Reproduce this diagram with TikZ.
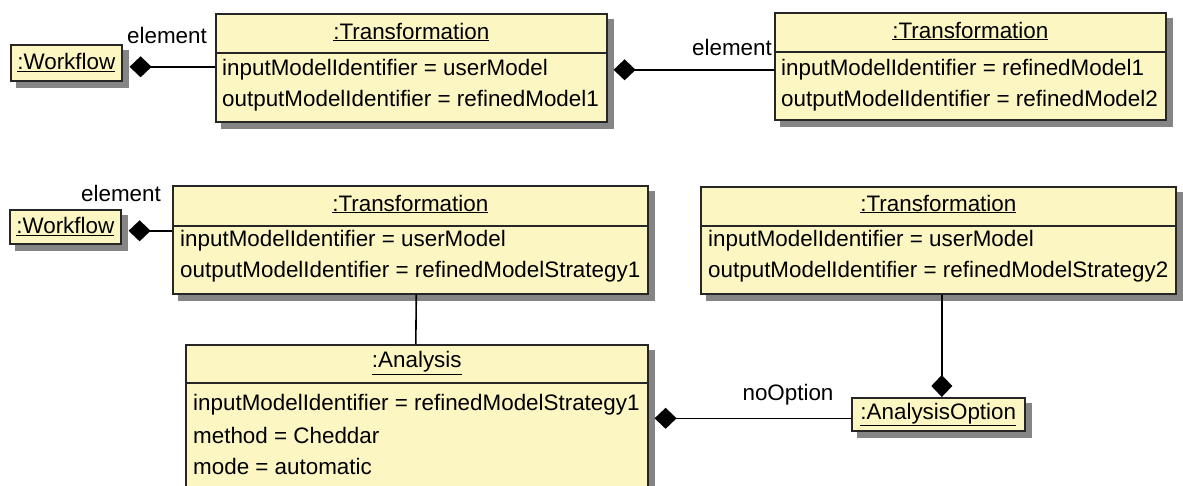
\documentclass[tikz,border=0pt]{standalone}
\usepackage{fontspec}
\setmainfont{Liberation Sans}
\usetikzlibrary{calc,arrows.meta,backgrounds}
\definecolor{umlfill}{HTML}{FBF6C2}
\definecolor{shadowgray}{HTML}{858585}
\definecolor{umlline}{HTML}{262626}
\tikzset{
  obj/.style={draw=umlline, line width=1.6pt, fill=umlfill, rectangle, inner sep=0pt, anchor=north west},
  ttl/.style={inner sep=0pt, font=\fontsize{22.4}{26}\selectfont, anchor=center},
  attr/.style={inner sep=0pt, font=\fontsize{22.4}{26}\selectfont, anchor=west},
  rolelbl/.style={inner sep=0pt, font=\fontsize{22.4}{26}\selectfont, anchor=center},
  sepline/.style={draw=umlline, line width=1.6pt},
  boxshade/.style={fill=shadowgray, draw=none},
  comp/.style={draw=black, line width=1.6pt, -{Diamond[length=22pt,width=21pt]}},
  assoc/.style={draw=black, line width=1.6pt}
}
\newcommand{\boxshadow}[1]{\path[boxshade] ($(#1.south west)+(6,6)$) rectangle ($(#1.north east)+(6,6)$);}
\begin{document}
\begin{tikzpicture}[x=1pt,y=-1pt]
\useasboundingbox (0,0) rectangle (1183,486);

% ---------- Row 1 ----------
\node[obj, minimum width=111pt, minimum height=36pt] (w1) at (10,44) {};
\node[ttl] (w1t) at (w1.center) {\underline{:Workflow}};

\node[obj, minimum width=391pt, minimum height=108pt] (t1) at (215,13) {};
\node[ttl] (t1t) at ($(t1.north)+(0,19)$) {\underline{:Transformation}};
\draw[sepline] ($(t1.north west)+(0,40)$) -- ($(t1.north east)+(0,40)$);
\node[attr] (t1a) at ($(t1.north west)+(7,57)$) {inputModelIdentifier = userModel};
\node[attr] (t1b) at ($(t1.north west)+(7,88)$) {outputModelIdentifier = refinedModel1};

\node[obj, minimum width=391pt, minimum height=107pt] (t2) at (774,12) {};
\node[ttl] (t2t) at ($(t2.north)+(0,19)$) {\underline{:Transformation}};
\draw[sepline] ($(t2.north west)+(0,40)$) -- ($(t2.north east)+(0,40)$);
\node[attr] (t2a) at ($(t2.north west)+(7,58)$) {inputModelIdentifier = refinedModel1};
\node[attr] (t2b) at ($(t2.north west)+(7,89)$) {outputModelIdentifier = refinedModel2};

\coordinate (c1) at ([shift={(7pt,-4pt)}]w1.east);
\draw[comp] (t1.west |- c1) -- (c1);
\node[rolelbl] (e1) at (167,35) {element};

\coordinate (c2) at ([shift={(6pt,-2pt)}]t1.east);
\draw[comp] (t2.west |- c2) -- (c2);
\node[rolelbl] (e2) at (732,47) {element};

% ---------- Row 2 ----------
\node[obj, minimum width=111pt, minimum height=34pt] (w2) at (9,209) {};
\node[ttl] (w2t) at (w2.center) {\underline{:Workflow}};

\node[obj, minimum width=475pt, minimum height=108pt] (t3) at (172,185) {};
\node[ttl] (t3t) at ($(t3.north)+(0,19)$) {\underline{:Transformation}};
\draw[sepline] ($(t3.north west)+(0,41)$) -- ($(t3.north east)+(0,41)$);
\node[attr] (t3a) at ($(t3.north west)+(8,56)$) {inputModelIdentifier = userModel};
\node[attr] (t3b) at ($(t3.north west)+(8,87)$) {outputModelIdentifier = refinedModelStrategy1};

\node[obj, minimum width=475pt, minimum height=107pt] (t4) at (700,186) {};
\node[ttl] (t4t) at ($(t4.north)+(0,18)$) {\underline{:Transformation}};
\draw[sepline] ($(t4.north west)+(0,40)$) -- ($(t4.north east)+(0,40)$);
\node[attr] (t4a) at ($(t4.north west)+(8,55)$) {inputModelIdentifier = userModel};
\node[attr] (t4b) at ($(t4.north west)+(8,86)$) {outputModelIdentifier = refinedModelStrategy2};

\node[obj, minimum width=462pt, minimum height=142pt] (an) at (185,344) {};
\node[ttl] (ant) at ($(an.north)+(0,19)$) {\underline{:Analysis}};
\draw[sepline] ($(an.north west)+(0,39)$) -- ($(an.north east)+(0,39)$);
\node[attr] (ana) at ($(an.north west)+(8,61)$) {inputModelIdentifier = refinedModelStrategy1};
\node[attr] (anb) at ($(an.north west)+(8,91)$) {method = Cheddar};
\node[attr] (anc) at ($(an.north west)+(8,122)$) {mode = automatic};

\node[obj, minimum width=173pt, minimum height=33pt] (ao) at (851,397) {};
\node[ttl] (aot) at (ao.center) {\underline{:AnalysisOption}};

\coordinate (c3) at ([shift={(7pt,-4pt)}]w2.east);
\draw[comp] (t3.west |- c3) -- (c3);
\node[rolelbl] (e3) at (121,193) {element};

\draw[assoc] ([xshift=6pt]t3.south) -- ([xshift=-1pt]an.north);

\coordinate (c4) at ([yshift=-4pt]ao.west);
\draw[comp] (c4) -- ([xshift=6pt]an.east |- c4);
\node[rolelbl] (e4) at (788,395) {noOption};

\draw[comp] ([xshift=3.5pt]t4.south) -- ([xshift=3.5pt]ao.north);

% ---------- shadows ----------
\begin{scope}[on background layer]
\boxshadow{w1}\boxshadow{t1}\boxshadow{t2}\boxshadow{w2}\boxshadow{t3}\boxshadow{t4}\boxshadow{an}\boxshadow{ao}
\end{scope}
\end{tikzpicture}
\end{document}
